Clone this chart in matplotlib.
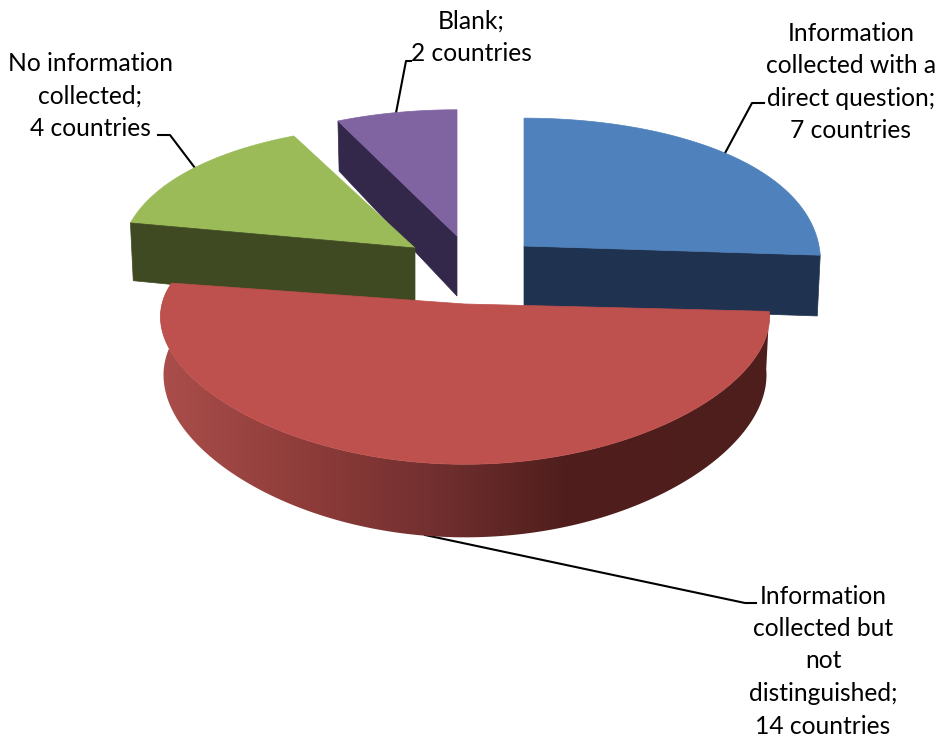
import numpy as np
import matplotlib.pyplot as plt
from matplotlib.patches import Polygon
from matplotlib.colors import LinearSegmentedColormap

plt.rcParams['font.family'] = ['Lato', 'DejaVu Sans']

names = ["Information\ncollected with a\ndirect question;\n7 countries",
         "Information\ncollected but\nnot\ndistinguished;\n14 countries",
         "No information\ncollected;\n4 countries",
         "Blank;\n2 countries"]
values = [7, 14, 4, 2]

top_cols = ["#4f81bd", "#be504d", "#9bbb59", "#8064a2"]
side_cols = ["#1f3350", "#4f1f1d", "#404a22", "#33284a"]

# apex x, apex y, rx, ry, depth of each slice in pixels (exploded by hand)
geom = [(524, 246, 295, 156, 60),
        (465, 304, 303, 125, 57),
        (415, 248, 294, 150, 60),
        (457, 236, 289, 154, 60)]
ky = 0.22     # perspective, back of the pie is smaller
kx = 0.10

# slice angles from the values, clockwise from 12 o'clock
ang = 90 - np.concatenate([[0], np.cumsum(values)]) / sum(values) * 360


def proj(g, a, low=False):
    a = np.radians(a)
    wy = 1 + ky * np.sin(a)
    x = g[2] * np.cos(a) / (1 + kx * np.sin(a))
    y = g[1] - g[3] * np.sin(a) / wy
    if low:
        return g[0] + 0.99 * x, y + g[4] / wy
    return g[0] + x, y


fig = plt.figure(figsize=(9.39, 7.38), dpi=100)
ax = fig.add_axes([0, 0, 1, 1])

# back to front
for i in [3, 0, 2, 1]:
    g = geom[i]
    a = np.linspace(ang[i], ang[i + 1], 240)
    x, y = proj(g, a)

    if i == 1:
        # outer wall, gradient clipped to the wall outline
        xb, yb = proj(g, a, low=True)
        wall = Polygon(np.column_stack([np.r_[x, xb[::-1]], np.r_[y, yb[::-1]]]),
                       fc="none", ec="none", transform=ax.transData)
        ax.add_patch(wall)
        cmap = LinearSegmentedColormap.from_list("wall", [(0, "#aa4e4b"), (0.23, "#8f3d3a"), (0.44, "#733030"),
                                                          (0.66, "#501f1d"), (1, "#4e1e1c")])
        im = ax.imshow(np.linspace(0, 1, 512).reshape(1, -1), cmap=cmap, aspect="auto",
                       extent=[160, 770, 560, 270], zorder=1)
        im.set_clip_path(wall)
    else:
        # cut face from apex to the outer edge that faces us
        end = {0: -1, 2: 0, 3: 0}[i]
        xe2, ye2 = proj(g, a[end], low=True)
        ax.add_patch(Polygon([(g[0], g[1]), (x[end], y[end]), (xe2, ye2), (g[0], g[1] + g[4])],
                             fc=side_cols[i], ec=side_cols[i], lw=0.5, zorder=i if i != 3 else 0))

    ax.add_patch(Polygon(np.column_stack([np.r_[g[0], x], np.r_[g[1], y]]),
                         fc=top_cols[i], ec=top_cols[i], lw=0.5, zorder=2 if i == 1 else 0.5))

ax.set_xlim(0, 939)
ax.set_ylim(738, 0)
ax.axis("off")

# leader lines
ax.plot([724, 752, 764], [155, 103, 103], color="k", lw=1.5, zorder=0)
ax.plot([425, 745, 756], [535, 603, 603], color="k", lw=1.5, zorder=0)
ax.plot([195, 170, 158], [168, 135, 135], color="k", lw=1.5, zorder=0)
ax.plot([396, 406, 411], [113, 61, 61], color="k", lw=1.5, zorder=0)

label_pos = [(851, 82), (823, 661), (90, 96), (471, 37)]
for n, p in zip(names, label_pos):
    ax.text(p[0], p[1], n, ha="center", va="center", fontsize=17.7, color="k", linespacing=1.5)

fig.savefig("out.png", dpi=100)
plt.close()
